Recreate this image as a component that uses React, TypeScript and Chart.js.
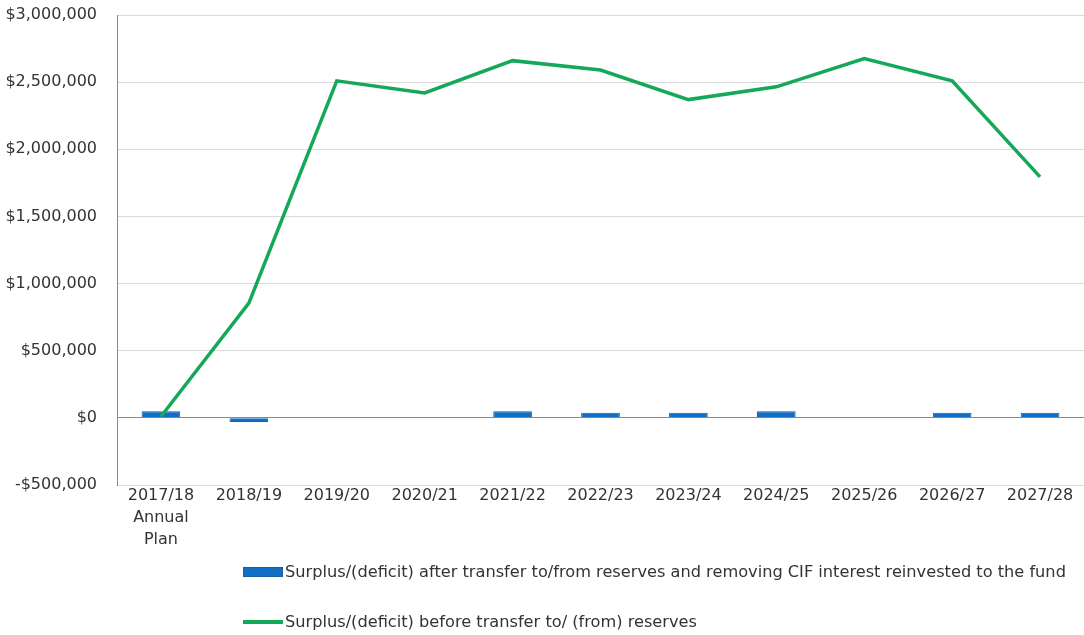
import React, { useEffect, useRef } from "react";
import { Chart, registerables } from "chart.js";

Chart.register(...registerables);

// Financial years shown along the horizontal axis
const categories: (string | string[])[] = [
  ["2017/18", "Annual", "Plan"],
  "2018/19",
  "2019/20",
  "2020/21",
  "2021/22",
  "2022/23",
  "2023/24",
  "2024/25",
  "2025/26",
  "2026/27",
  "2027/28",
];

// Surplus/(deficit) after transfers and removing CIF interest (bars)
const afterTransfer = [50000, -30000, 4000, 3000, 50000, 38000, 38000, 50000, 4000, 38000, 38000];

// Surplus/(deficit) before transfers to/(from) reserves (line)
const beforeTransfer = [10000, 855000, 2510000, 2420000, 2660000, 2590000, 2370000, 2465000, 2675000, 2510000, 1795000];

// Vertical axis range
const yMin = -500000;
const yMax = 3000000;
const yStep = 500000;

const barLabel = "Surplus/(deficit) after transfer to/from reserves and removing CIF interest reinvested to the fund";
const lineLabel = "Surplus/(deficit) before transfer to/ (from) reserves";

const BLUE = "#0f6fc6";
const BLUE_EDGE = "#1b5ea3";
const GREEN = "#16a85a";
const TEXT = "#333333";
const FONT = "'DejaVu Sans', sans-serif";

function money(v: number): string {
  const s = "$" + Math.abs(v).toLocaleString("en-US");
  return v < 0 ? "-" + s : s;
}

export default function App() {
  const ref = useRef<HTMLCanvasElement | null>(null);

  useEffect(() => {
    if (!ref.current) return;
    const chart = new Chart(ref.current, {
      data: {
        labels: categories,
        datasets: [
          {
            type: "line",
            label: lineLabel,
            data: beforeTransfer,
            borderColor: GREEN,
            backgroundColor: GREEN,
            borderWidth: 3.5,
            pointRadius: 0,
            tension: 0,
            order: 0,
          },
          {
            type: "bar",
            label: barLabel,
            data: afterTransfer,
            backgroundColor: BLUE,
            borderColor: BLUE_EDGE,
            borderWidth: 1,
            categoryPercentage: 1,
            barPercentage: 0.44,
            order: 1,
          },
        ],
      },
      options: {
        responsive: false,
        animation: false,
        layout: { padding: { top: 15, right: 0, bottom: 70, left: 0 } },
        plugins: {
          legend: { display: false },
          tooltip: { enabled: false },
        },
        scales: {
          x: {
            grid: { display: false, drawTicks: false },
            border: { display: false },
            ticks: {
              color: TEXT,
              font: { family: FONT, size: 16, lineHeight: "22px" },
              padding: 0,
              maxRotation: 0,
              autoSkip: false,
            },
            afterFit: (s: any) => {
              s.height = 80;
            },
          },
          y: {
            min: yMin,
            max: yMax,
            ticks: {
              stepSize: yStep,
              color: TEXT,
              font: { family: FONT, size: 16 },
              padding: 20,
              callback: (v: any) => money(Number(v)),
            },
            grid: {
              drawTicks: false,
              color: (ctx: any) => (ctx.tick && ctx.tick.value === 0 ? "#8a8a8a" : "#dadada"),
              lineWidth: 1,
            },
            border: { display: true, color: "#8a8a8a", width: 1 },
            afterFit: (s: any) => {
              s.width = 117;
              s.paddingTop = 0;
              s.paddingBottom = 0;
            },
          },
        },
      },
    });
    return () => chart.destroy();
  }, []);

  const legendText: React.CSSProperties = {
    position: "absolute",
    left: 285,
    fontFamily: FONT,
    fontSize: 16.2,
    color: TEXT,
    whiteSpace: "nowrap",
    lineHeight: "20px",
  };

  return (
    <div style={{ position: "fixed", left: 0, top: 0, width: 1084, height: 635, background: "#fff" }}>
      <canvas ref={ref} width={1084} height={635} style={{ position: "absolute", left: 0, top: 0 }} />
      <div style={{ position: "absolute", left: 243, top: 567, width: 40, height: 10, background: BLUE, boxSizing: "border-box", border: `1px solid ${BLUE_EDGE}` }} />
      <div style={{ ...legendText, top: 562 }}>{barLabel}</div>
      <div style={{ position: "absolute", left: 243, top: 620, width: 40, height: 4, background: GREEN }} />
      <div style={{ ...legendText, top: 612 }}>{lineLabel}</div>
    </div>
  );
}
